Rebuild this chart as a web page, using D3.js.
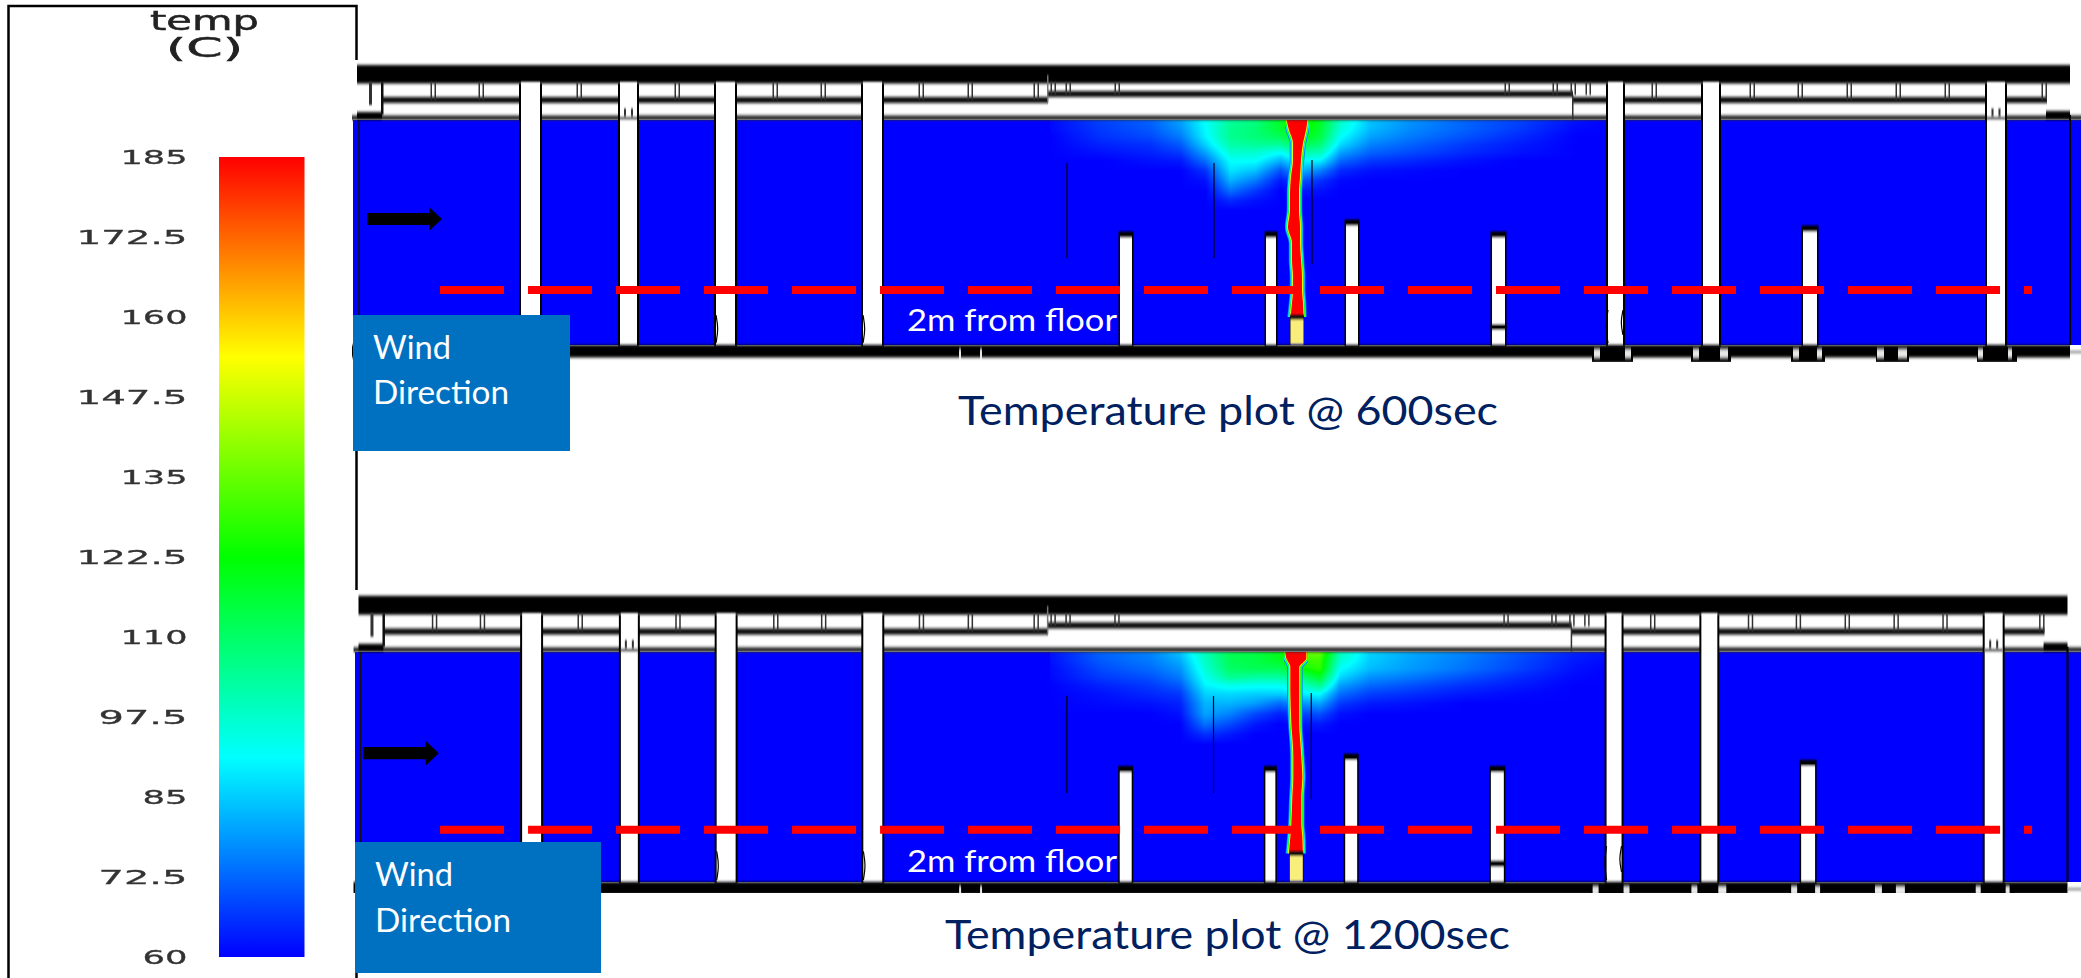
<!DOCTYPE html>
<html lang="en">
<head>
<meta charset="UTF-8"/>
<title>Temperature plots</title>
<script src="https://d3js.org/d3.v7.min.js"></script>
<style>
  html, body { margin: 0; background: #fff; }
  svg { display: block; }
  .calibri { font-family: Lato, "Noto Sans", sans-serif; }
</style>
</head>
<body>
<script>
// --- data -----------------------------------------------------------------
// stations run along the tunnel, rise goes up from the floor (both in grid units)
var legendTicks = [185, 172.5, 160, 147.5, 135, 122.5, 110, 97.5, 85, 72.5, 60];
var rainbowTemps = [60, 91.25, 122.5, 153.75, 185];
var rainbowColors = ["#0000ff", "#00ffff", "#00ff00", "#ffff00", "#ff0000"];

var panelNames = ["Temperature plot @ 600sec", "Temperature plot @ 1200sec"];

var tallColumns = [[32.8, 36.6], [52.6, 56], [71.8, 75.6], [101.2, 105], [250.2, 253.2], [269.2, 272.4], [326, 329.6]];
var shortColumns = [[152.6, 155, 22.4], [181.8, 183.8, 22.4], [197.8, 200.2, 24.8], [227, 229.6, 22.4], [289.2, 292, 23.6]];
var baffles = [[142, 36.4, 17.4], [171.4, 36.4, 17.4], [191, 37, 16.2]];
var columnBulges = [[71.8, 6, 0.4, 0.5], [101.2, 6, 0.4, 0.5], [250.2, 7, 0.4, -0.5], [253.2, 7, 2, -0.5]];
var headerTicks = [15.2, 24.8, 44.4, 64, 83.6, 93.2, 112.8, 122.6, 135.8, 259.4, 279, 288.6, 298.4, 308.2, 318, 327.8, 337.4];
var narrowHeaderTicks = [139.2, 142.2, 152, 230, 239.6, 243.2, 246.2];
var pedestals = [[247, 255.2], [266.8, 274.8], [286.8, 293.6], [303.8, 310.4], [324, 332]];
var floorWindows = [[120.4, 120.8], [124.6, 125], [247.4, 248.6], [253.6, 254.8], [267.2, 268.4], [272.6, 274.2], [287.2, 288.4], [292, 293], [304, 305.4], [308.2, 310], [324.2, 325.2], [330.2, 331]];
var fireSource = [186.6, 189.4, 5.6];

var smokeStations = [138.6, 148.6, 158.6, 164.6, 169.6, 174.6, 179.6, 184.6, 188.6, 192.6, 196.6, 202.6, 210.6, 221.6, 232.6, 243.6, 250.6];
var smokeRises = [45, 43.4, 41.8, 40.2, 38.6, 37, 35, 33, 31, 29, 27];

var smoke600 = [
  [61, 68, 72, 80, 92, 103, 107, 118, 130, 118, 98, 84, 78, 72, 68, 62, 60],
  [61, 67, 71, 78, 91, 105, 108, 117, 128, 116, 96, 83, 77, 72, 67, 61, 60],
  [60, 66, 69, 75, 90, 105, 108, 112, 122, 114, 92, 80, 75, 70, 65, 60, 60],
  [60, 64, 66, 71, 86, 102, 104, 104, 114, 108, 87, 76, 72, 67, 63, 60, 60],
  [60, 62, 64, 67, 80, 97, 97, 92, 102, 100, 80, 72, 69, 65, 62, 60, 60],
  [60, 60, 62, 63, 74, 92, 92, 82, 92, 90, 73, 67, 65, 62, 60, 60, 60],
  [60, 60, 60, 60, 66, 88, 84, 70, 82, 76, 65, 62, 61, 60, 60, 60, 60],
  [60, 60, 60, 60, 62, 82, 75, 63, 70, 66, 61, 60, 60, 60, 60, 60, 60],
  [60, 60, 60, 60, 60, 74, 67, 60, 63, 62, 60, 60, 60, 60, 60, 60, 60],
  [60, 60, 60, 60, 60, 65, 62, 60, 60, 60, 60, 60, 60, 60, 60, 60, 60],
  [60, 60, 60, 60, 60, 60, 60, 60, 60, 60, 60, 60, 60, 60, 60, 60, 60]
];
var smoke1200 = [
  [62, 72, 76, 84, 100, 112, 114, 120, 135, 135, 100, 86, 81, 76, 70, 64, 62],
  [62, 71, 75, 81, 98, 112, 114, 118, 130, 130, 97, 85, 80, 75, 69, 63, 61],
  [61, 69, 73, 78, 96, 110, 112, 112, 122, 128, 92, 83, 79, 74, 68, 62, 60],
  [61, 67, 70, 75, 93, 105, 103, 103, 108, 118, 87, 78, 75, 70, 65, 61, 60],
  [60, 64, 67, 71, 90, 94, 93, 93, 96, 106, 80, 73, 70, 66, 63, 60, 60],
  [60, 62, 65, 67, 86, 87, 86, 86, 90, 92, 74, 68, 66, 63, 61, 60, 60],
  [60, 61, 62, 64, 82, 82, 79, 73, 78, 80, 67, 63, 62, 60, 60, 60, 60],
  [60, 60, 60, 62, 80, 76, 69, 64, 68, 70, 62, 60, 60, 60, 60, 60, 60],
  [60, 60, 60, 60, 74, 69, 63, 60, 62, 63, 60, 60, 60, 60, 60, 60, 60],
  [60, 60, 60, 60, 66, 63, 60, 60, 60, 60, 60, 60, 60, 60, 60, 60, 60],
  [60, 60, 60, 60, 60, 60, 60, 60, 60, 60, 60, 60, 60, 60, 60, 60, 60]
];

// plume core: rise, left station, right station
var plume600 = [[45, 185.9, 190.1], [43, 186.4, 189.8], [40.4, 187.2, 189.2], [37, 187.2, 188.8], [33.6, 186.8, 188.6],
  [30.4, 186.6, 188.4], [27, 186.6, 188.4], [23.6, 186.2, 188.6], [20.4, 187, 188.6], [17, 187, 188.8],
  [13.6, 187.2, 189], [11, 187.2, 189], [8.4, 187, 189.2], [5.6, 186.7, 189.3]];
var plume1200 = [[45, 185.8, 190], [43.8, 186, 190], [42.7, 186.6, 189.1], [42.1, 186.8, 188.6], [37.6, 186.8, 188.6],
  [31.1, 187, 188.6], [24.5, 187.4, 189], [20.5, 187.4, 189.2], [16.6, 187.2, 189], [11.5, 187, 189],
  [8.8, 186.8, 189.2], [5.6, 186.5, 189.3]];

var dashes600 = [16.6, 335], dashes1200 = [16.35, 335.5];
var dashRises = [11, 10.2];
var arrowStations = [[2, 17], [0.9, 16.1]];

// --- layout ---------------------------------------------------------------
var w = 2081, h = 978;
var layouts = [
  { x: [357, 2072], y: [345, 120], clipBottom: 362, smoke: smoke600, plume: plume600, dashes: dashes600,
    box: [353, 315, 217, 136], wind: [373, 359, 404], label: 331, title: [958, 425, 540] },
  { x: [358.5, 2069.5], y: [882, 652], clipBottom: 893, smoke: smoke1200, plume: plume1200, dashes: dashes1200,
    box: [355, 842, 246, 131], wind: [375, 886, 932], label: 872, title: [945, 949, 565] }
];

var tempColor = d3.scaleLinear().domain(rainbowTemps).range(rainbowColors).clamp(true);

var svg = d3.select("body").append("svg").attr("width", w).attr("height", h);
var defs = svg.append("defs");

function addBlur(id, sx, sy) {
  defs.append("filter").attr("id", id)
      .attr("x", "-5%").attr("y", "-5%").attr("width", "110%").attr("height", "110%")
      .append("feGaussianBlur").attr("stdDeviation", sx + " " + sy);
}
addBlur("blurHeader", 0.3, 1.7);
addBlur("blurColumn", 0.5, 0.8);
addBlur("blurText", 0.45, 0.45);
addBlur("blurPlume", 0.5, 0.5);

// legend frame
var frame = svg.append("g").attr("stroke", "#000").attr("stroke-width", 2.5).attr("fill", "none");
frame.append("path").attr("d", "M8.5,978V6H356.5V60");
frame.append("path").attr("d", "M356.5,451V590");
frame.append("path").attr("d", "M356.5,973V978");

// legend colour bar
var legendScale = d3.scaleLinear().domain([60, 185]).range([957, 157]);
var grad = defs.append("linearGradient").attr("id", "rainbow")
    .attr("x1", 0).attr("x2", 0).attr("y1", 1).attr("y2", 0);
grad.selectAll("stop").data(rainbowTemps).enter().append("stop")
    .attr("offset", function(d) { return (d - 60) / 125; })
    .attr("stop-color", function(d) { return tempColor(d); });

svg.append("rect")
    .attr("x", 219).attr("width", 85.5)
    .attr("y", legendScale(185)).attr("height", legendScale(60) - legendScale(185))
    .attr("fill", "url(#rainbow)");

var legendAxis = svg.append("g")
    .attr("transform", "translate(187.5,0)")
    .attr("filter", "url(#blurText)")
    .call(d3.axisLeft(legendScale).tickValues(legendTicks).tickSize(0).tickPadding(0)
        .tickFormat(function(d) { return d; }));
legendAxis.select(".domain").remove();
legendAxis.selectAll("text")
    .attr("font-family", "'DejaVu Sans'")
    .attr("font-size", 20)
    .attr("fill", "#333")
    .attr("stroke", "#333")
    .attr("stroke-width", 0.3)
    .attr("textLength", function(d) { return String(d).length * 22 + 1; })
    .attr("lengthAdjust", "spacingAndGlyphs");

var legendTitle = svg.append("g").attr("font-family", "'DejaVu Sans'").attr("fill", "#222")
    .attr("stroke", "#222").attr("stroke-width", 0.5)
    .attr("filter", "url(#blurText)");
legendTitle.append("text").attr("x", 150).attr("y", 30).attr("font-size", 27)
    .attr("textLength", 109).attr("lengthAdjust", "spacingAndGlyphs").text("temp");
legendTitle.append("text").attr("x", 166).attr("y", 57).attr("font-size", 26)
    .attr("textLength", 77).attr("lengthAdjust", "spacingAndGlyphs").text("(C)");

// bilinear read of a temperature grid
function readSmoke(grid, s, r) {
  var i = Math.max(0, Math.min(smokeStations.length - 2, d3.bisectRight(smokeStations, s) - 1));
  var j = 0;
  while (j < smokeRises.length - 2 && r < smokeRises[j + 1]) j++;
  var fx = Math.max(0, Math.min(1, (s - smokeStations[i]) / (smokeStations[i + 1] - smokeStations[i])));
  var fy = Math.max(0, Math.min(1, (smokeRises[j] - r) / (smokeRises[j] - smokeRises[j + 1])));
  var top = grid[j][i] * (1 - fx) + grid[j][i + 1] * fx;
  var bot = grid[j + 1][i] * (1 - fx) + grid[j + 1][i + 1] * fx;
  return top * (1 - fy) + bot * fy;
}

function smokeImage(grid, x, y) {
  var x0 = Math.round(x(smokeStations[0]));
  var x1 = Math.round(x(smokeStations[smokeStations.length - 1]));
  var y0 = Math.round(y(smokeRises[0]));
  var y1 = Math.round(y(smokeRises[smokeRises.length - 1]));
  var cv = document.createElement("canvas");
  cv.width = x1 - x0; cv.height = y1 - y0;
  var ctx = cv.getContext("2d");
  var img = ctx.createImageData(cv.width, cv.height);
  for (var py = 0; py < cv.height; py++) {
    for (var px = 0; px < cv.width; px++) {
      var t = readSmoke(grid, x.invert(x0 + px), y.invert(y0 + py));
      var c = d3.rgb(tempColor(t));
      var k = (py * cv.width + px) * 4;
      img.data[k] = c.r; img.data[k + 1] = c.g; img.data[k + 2] = c.b; img.data[k + 3] = 255;
    }
  }
  ctx.putImageData(img, 0, 0);
  return { href: cv.toDataURL(), x: x0, y: y0, w: cv.width, h: cv.height };
}

function drawPanel(cfg, idx) {
  var x = d3.scaleLinear().domain([0, 343]).range(cfg.x);
  var y = d3.scaleLinear().domain([0, 45]).range(cfg.y);
  var clipId = "panelClip" + idx;
  defs.append("clipPath").attr("id", clipId).append("rect")
      .attr("x", 0).attr("y", 0).attr("width", w).attr("height", cfg.clipBottom);
  defs.append("clipPath").attr("id", "plumeClip" + idx).append("rect")
      .attr("x", 0).attr("width", w)
      .attr("y", y(45)).attr("height", y(fireSource[2]) - y(45));
  var g = svg.append("g").attr("clip-path", "url(#" + clipId + ")");

  function band(sel, s0, s1, r0, r1, fill) {
    return sel.append("rect")
        .attr("x", x(s0)).attr("width", x(s1) - x(s0))
        .attr("y", y(r1)).attr("height", y(r0) - y(r1))
        .attr("fill", fill);
  }

  // tunnel section
  g.append("rect").attr("x", cfg.box[0]).attr("width", w - cfg.box[0])
      .attr("y", y(45)).attr("height", y(0) - y(45)).attr("fill", "#0000ff");

  // ceiling smoke
  var im = smokeImage(cfg.smoke, x, y);
  g.append("image").attr("href", im.href)
      .attr("x", im.x).attr("y", im.y).attr("width", im.w).attr("height", im.h);

  // fire plume
  var plumeArea = d3.area()
      .y(function(d) { return y(d[0]); })
      .x0(function(d) { return x(d[1]); })
      .x1(function(d) { return x(d[2]); })
      .curve(d3.curveMonotoneY);
  var halo = [[75, 6.5], [91, 4.8], [122, 3.2], [154, 1.7]];
  var plumeClipped = g.append("g").attr("clip-path", "url(#plumeClip" + idx + ")");
  var plumeG = plumeClipped.append("g").attr("filter", "url(#blurPlume)");
  plumeG.selectAll("path.halo").data(halo).enter().append("path")
      .attr("class", "halo")
      .attr("d", plumeArea(cfg.plume))
      .attr("fill", function(d) { return tempColor(d[0]); })
      .attr("stroke", function(d) { return tempColor(d[0]); })
      .attr("stroke-width", function(d) { return d[1]; })
      .attr("stroke-linejoin", "round");
  plumeG.append("path").attr("d", plumeArea(cfg.plume)).attr("fill", tempColor(185));

  // header and floor bands
  var head = g.append("g").attr("filter", "url(#blurHeader)");
  band(head, 0, 342.6, 52.3, 56, "#000");
  band(head, 5, 138.2, 48.4, 49.6, "#111");
  band(head, 138.2, 243.2, 49.6, 50.8, "#111");
  band(head, 243.2, 338, 48.4, 49.6, "#111");
  band(head, -1, 376, 45, 45.9, "#222");
  band(head, 0, 5, 45, 46.6, "#000");
  band(head, 337.8, 342.6, 45, 46.8, "#000");
  band(head, -1, 342.6, -2.5, 0, "#000");
  band(head, 342.6, 376, -1.6, -1.2, "#777");
  pedestals.forEach(function(p) { band(head, p[0], p[1], -3.6, -2, "#000"); });
  floorWindows.forEach(function(p) { band(head, p[0], p[1], -2.5, -0.9, "#e8e8e8"); });

  var ticks = g.append("g").attr("filter", "url(#blurColumn)");
  headerTicks.forEach(function(s) {
    band(ticks, s - 0.5, s - 0.2, 49, 52.6, "#333");
    band(ticks, s + 0.3, s + 0.6, 49, 52.6, "#333");
  });
  narrowHeaderTicks.forEach(function(s) {
    band(ticks, s - 0.5, s - 0.2, 50, 52.6, "#333");
    band(ticks, s + 0.3, s + 0.6, 50, 52.6, "#333");
  });
  band(ticks, 2.4, 3, 48, 52.6, "#333");
  band(ticks, 4.8, 5.3, 46, 52.6, "#111");
  band(ticks, 243, 243.3, 45, 50, "#333");
  band(ticks, 138, 138.3, 48.5, 54, "#777");

  // columns and baffles
  var cols = g.append("g").attr("filter", "url(#blurColumn)");
  tallColumns.forEach(function(c, i) {
    band(cols, c[0] - 0.4, c[1] + 0.4, -0.3, 52.4, "#000");
    band(cols, c[0], c[1], 0.2, 52.6, "#fff");
    if (i === 1 || i === 6) { // bracket marks where the column meets the ceiling
      var mid = (c[0] + c[1]) / 2;
      band(cols, mid - 0.9, mid - 0.5, 45.7, 47.4, "#333");
      band(cols, mid + 0.5, mid + 0.9, 45.7, 47.4, "#333");
      band(cols, c[0], c[1], 45, 45.7, "#777");
    }
  });
  shortColumns.forEach(function(c, i) {
    band(cols, c[0] - 0.3, c[1] + 0.3, -0.3, c[2] + 0.3, "#000");
    band(cols, c[0], c[1], 0.2, c[2] - 0.9, "#fff");
    if (i === 3) band(cols, c[0] - 0.3, c[1] + 0.3, 3, 4.2, "#000");
  });
  baffles.forEach(function(b) {
    g.append("line").attr("x1", x(b[0])).attr("x2", x(b[0]))
        .attr("y1", y(b[1])).attr("y2", y(b[2]))
        .attr("stroke", "#001").attr("stroke-width", 1.2);
  });
  var bulge = d3.line().x(function(d) { return x(d[0]); }).y(function(d) { return y(d[1]); }).curve(d3.curveBasis);
  columnBulges.forEach(function(b) {
    g.append("path")
        .attr("d", bulge([[b[0], b[1]], [b[0] + b[3], (b[1] + b[2]) / 2], [b[0], b[2]]]))
        .attr("fill", "none").attr("stroke", "#000").attr("stroke-width", 1.2);
  });
  band(cols, fireSource[0], fireSource[1], 0.1, fireSource[2] + 0.4, "#111");
  band(cols, fireSource[0] + 0.1, fireSource[1] - 0.1, 0.2, fireSource[2] - 0.5, "#f9ee7c");

  // wall line at the left end
  g.append("line").attr("x1", x(0.4)).attr("x2", x(0.4)).attr("y1", y(45)).attr("y2", y(0))
      .attr("stroke", "#111").attr("stroke-width", 1.5);
  g.append("line").attr("x1", x(342.6)).attr("x2", x(342.6)).attr("y1", y(46)).attr("y2", y(0))
      .attr("stroke", "#000").attr("stroke-width", 2);

  // wind arrow
  var a = arrowStations[idx], arrowRise = 25.2;
  var arrowPts = [[a[0], arrowRise + 1.2], [a[1] - 2.6, arrowRise + 1.2], [a[1] - 2.6, arrowRise + 2.4], [a[1], arrowRise],
                  [a[1] - 2.6, arrowRise - 2.4], [a[1] - 2.6, arrowRise - 1.2], [a[0], arrowRise - 1.2]];
  g.append("path")
      .attr("d", d3.line().x(function(d) { return x(d[0]); }).y(function(d) { return y(d[1]); })(arrowPts) + "Z")
      .attr("fill", "#000");

  // 2m line
  g.append("line")
      .attr("x1", x(cfg.dashes[0])).attr("x2", x(cfg.dashes[1]))
      .attr("y1", y(dashRises[idx])).attr("y2", y(dashRises[idx]))
      .attr("stroke", "#ff0000").attr("stroke-width", 8)
      .attr("stroke-dasharray", "64 24");

  // annotations
  svg.append("text").attr("class", "calibri")
      .attr("x", 907).attr("y", cfg.label).attr("font-size", 31).attr("fill", "#fff")
      .attr("textLength", 210).attr("lengthAdjust", "spacingAndGlyphs")
      .text("2m from floor");

  svg.append("rect").attr("x", cfg.box[0]).attr("y", cfg.box[1])
      .attr("width", cfg.box[2]).attr("height", cfg.box[3]).attr("fill", "#0070c0");
  svg.append("text").attr("class", "calibri").attr("x", cfg.wind[0]).attr("y", cfg.wind[1])
      .attr("font-size", 32).attr("fill", "#fff")
      .attr("textLength", 78).attr("lengthAdjust", "spacingAndGlyphs").text("Wind");
  svg.append("text").attr("class", "calibri").attr("x", cfg.wind[0]).attr("y", cfg.wind[2])
      .attr("font-size", 32).attr("fill", "#fff")
      .attr("textLength", 136).attr("lengthAdjust", "spacingAndGlyphs").text("Direction");

  svg.append("text").attr("class", "calibri")
      .attr("x", cfg.title[0]).attr("y", cfg.title[1])
      .attr("font-size", 40).attr("fill", "#002060")
      .attr("textLength", cfg.title[2]).attr("lengthAdjust", "spacingAndGlyphs")
      .text(panelNames[idx]);
}

layouts.forEach(drawPanel);
</script>
</body>
</html>
